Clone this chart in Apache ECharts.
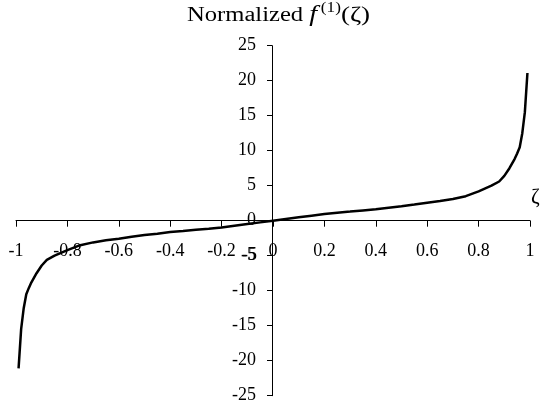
<!DOCTYPE html>
<html>
<head>
<meta charset="utf-8">
<script src="https://cdn.jsdelivr.net/npm/echarts@6/dist/echarts.min.js"></script>
<style>
html,body{margin:0;padding:0;background:#fff;}
#c{width:540px;height:410px;}
</style>
</head>
<body>
<div id="c"></div>
<script>
// Data
var zeta = [-0.99, -0.98, -0.97, -0.96, -0.95, -0.94, -0.92, -0.9, -0.88, -0.85, -0.8, -0.75, -0.7, -0.65, -0.6, -0.55, -0.5, -0.45, -0.4, -0.35, -0.3, -0.25, -0.2, -0.15, -0.1, -0.05,
            0, 0.05, 0.1, 0.15, 0.2, 0.25, 0.3, 0.35, 0.4, 0.45, 0.5, 0.55, 0.6, 0.65, 0.7, 0.75, 0.8, 0.85, 0.88, 0.9, 0.92, 0.94, 0.95, 0.96, 0.97, 0.98, 0.99];
var fValues = [-21.1, -15.5, -12.5, -10.5, -9.6, -8.8, -7.5, -6.4, -5.6, -5.0, -4.2, -3.5, -3.1, -2.8, -2.57, -2.3, -2.05, -1.85, -1.63, -1.47, -1.3, -1.15, -0.96, -0.72, -0.48, -0.24,
               0, 0.24, 0.48, 0.72, 0.96, 1.15, 1.3, 1.47, 1.63, 1.85, 2.05, 2.3, 2.57, 2.8, 3.1, 3.5, 4.2, 5.0, 5.6, 6.4, 7.5, 8.8, 9.6, 10.5, 12.5, 15.5, 21.1];
var xTickLabels = ["-1", "-0.8", "-0.6", "-0.4", "-0.2", "0", "0.2", "0.4", "0.6", "0.8", "1"];
var yTickLabels = ["-25", "-20", "-15", "-10", "-5", "0", "5", "10", "15", "20", "25"];
var yTickValues = [-25, -20, -15, -10, -5, 0, 5, 10, 15, 20, 25];
var titleParts = ["Normalized ", "f", "(1)", "(ζ)"];
var xName = "ζ";

var points = zeta.map(function (z, i) { return [z, fValues[i]]; });
var font = '"Liberation Serif", "Times New Roman", serif';
var lblSize = 18;
var yLblMargin = 16;

function yLabel(v) { return yTickLabels[Math.round((v + 25) / 5)]; }

var chart = echarts.init(document.getElementById('c'), null, {renderer: 'canvas'});
chart.setOption({
  animation: false,
  backgroundColor: '#fff',
  graphic: [{
    id: 'title',
    type: 'text',
    left: 187,
    top: 0,
    scaleX: 1.23,
    style: {
      text: '{n|' + titleParts[0] + '}{f|' + titleParts[1] + '}{s|' + titleParts[2] + '}{z|' + titleParts[3] + '}',
      rich: {
        n: {fontFamily: font, fontSize: 20, fill: '#000', lineHeight: 26, verticalAlign: 'bottom'},
        f: {fontFamily: font, fontSize: 23, fontStyle: 'italic', fill: '#000', lineHeight: 26, verticalAlign: 'bottom', padding: [0, 3, 0, 0]},
        s: {fontFamily: font, fontSize: 14, fill: '#000', lineHeight: 26, verticalAlign: 'top', padding: [1, 0, 0, 0]},
        z: {fontFamily: font, fontSize: 22, fill: '#000', lineHeight: 26, verticalAlign: 'bottom'}
      }
    }
  }],
  grid: {left: 16, right: 10, top: 45.7, bottom: 14.3, containLabel: false, outerBoundsMode: 'none'},
  xAxis: {
    type: 'value',
    position: 'bottom',
    offset: -175,
    min: -1, max: 1, interval: 0.2,
    name: xName,
    nameLocation: 'end',
    nameGap: 1,
    nameTextStyle: {fontFamily: font, fontSize: 21, color: '#000', verticalAlign: 'bottom', padding: [0, 0, 13, 0]},
    axisLine: {onZero: false, lineStyle: {color: '#000', width: 1}},
    axisTick: {show: true, length: 6, lineStyle: {color: '#000'}},
    axisLabel: {
      fontFamily: font, fontSize: lblSize, color: '#000', margin: 22, hideOverlap: false,
      formatter: function (v) { return xTickLabels[Math.round((v + 1) / 0.2)]; }
    },
    splitLine: {show: false}
  },
  yAxis: {
    type: 'value',
    position: 'left',
    offset: -256,
    min: -25, max: 25, interval: 5,
    axisLine: {onZero: false, lineStyle: {color: '#000', width: 1}},
    axisTick: {show: true, length: 5, lineStyle: {color: '#000'}},
    axisLabel: {
      fontFamily: font, fontSize: lblSize, color: '#000', margin: yLblMargin, hideOverlap: false,
      formatter: function (v) { return yLabel(v); }
    },
    splitLine: {show: false}
  },
  series: [{
    type: 'line',
    data: points,
    showSymbol: false,
    symbol: 'none',
    smooth: false,
    lineStyle: {color: '#000', width: 2.5}
  }]
});

// ECharts drops the y label that collides with the x labels; the reference shows it overlapping,
// so place that one tick label through the axis scale.
var idx = yTickLabels.indexOf('-5');
var p = chart.convertToPixel({xAxisIndex: 0, yAxisIndex: 0}, [0, yTickValues[idx]]);
chart.setOption({
  graphic: [{
    id: 'yLabelMinus5',
    type: 'text',
    x: p[0] - yLblMargin,
    y: p[1],
    style: {
      text: yTickLabels[idx],
      fontFamily: font, fontSize: lblSize, fill: '#000',
      align: 'right', verticalAlign: 'middle'
    }
  }]
});
</script>
</body>
</html>
